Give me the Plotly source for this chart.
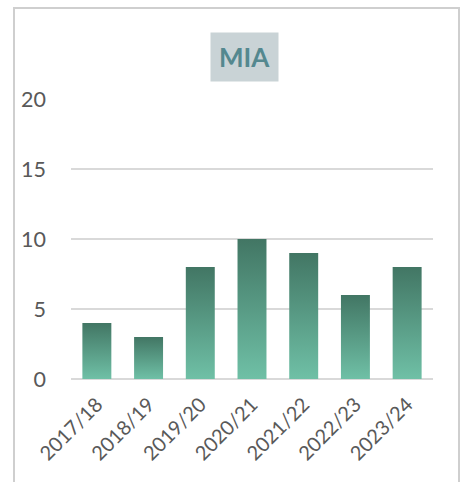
import plotly.graph_objects as go

# Season labels and counts
seasons = ["2017/18", "2018/19", "2019/20", "2020/21", "2021/22", "2022/23", "2023/24"]
counts = [4, 3, 8, 10, 9, 6, 8]
y_ticks = [0, 5, 10, 15, 20]

BAR_WIDTH = 0.56
BAR_TOP = "#427664"
BAR_BOTTOM = "#6fc0a6"
TEXT_GREY = "#595959"
FONT = "Lato, sans-serif"

fig = go.Figure()

# Each bar is a filled rectangle with a vertical gradient spanning its own height
for i, v in enumerate(counts):
    x0, x1 = i - BAR_WIDTH / 2, i + BAR_WIDTH / 2
    fig.add_trace(go.Scatter(
        x=[x0, x0, x1, x1, x0],
        y=[0, v, v, 0, 0],
        mode="lines",
        fill="toself",
        line=dict(width=0, color=BAR_TOP),
        fillgradient=dict(type="vertical",
                          colorscale=[[0, BAR_BOTTOM], [1, BAR_TOP]],
                          start=0, stop=v),
        hovertemplate=f"{seasons[i]}: {v}<extra></extra>",
        showlegend=False,
    ))

fig.update_xaxes(
    range=[-0.5, len(seasons) - 0.5],
    tickvals=list(range(len(seasons))),
    ticktext=seasons,
    tickangle=-45,
    showgrid=False,
    zeroline=False,
    showline=False,
    ticks="",
    ticklabelstandoff=9,
    automargin=False,
    tickfont=dict(family=FONT, size=20, color=TEXT_GREY),
    fixedrange=True,
)
fig.update_yaxes(
    range=[0, 20],
    tickvals=y_ticks,
    showgrid=True,
    gridcolor="#d9d9d9",
    gridwidth=1.5,
    zeroline=True,
    zerolinecolor="#d9d9d9",
    zerolinewidth=2,
    showline=False,
    ticks="",
    ticklabelstandoff=24,
    automargin=False,
    tickfont=dict(family=FONT, size=21.5, color=TEXT_GREY),
    fixedrange=True,
)

# Chart frame (open at the bottom edge of the view)
fig.add_shape(type="rect", xref="paper", yref="paper",
              x0=-0.1575, x1=1.0718, y0=-0.6, y1=1.325,
              line=dict(color="#cfcfcf", width=2), layer="below")

# Title in a tinted box
fig.add_annotation(
    text="<b>MIA</b>", xref="paper", yref="paper",
    x=0.478, y=1.15, xanchor="center", yanchor="middle",
    showarrow=False,
    font=dict(family=FONT, size=26, color="#54888f"),
    bgcolor="#c9d3d6", borderpad=8,
)

fig.update_layout(
    width=465, height=482,
    margin=dict(l=71, r=32, t=99, b=103),
    paper_bgcolor="white",
    plot_bgcolor="white",
    showlegend=False,
)

fig.write_html("out.html")
